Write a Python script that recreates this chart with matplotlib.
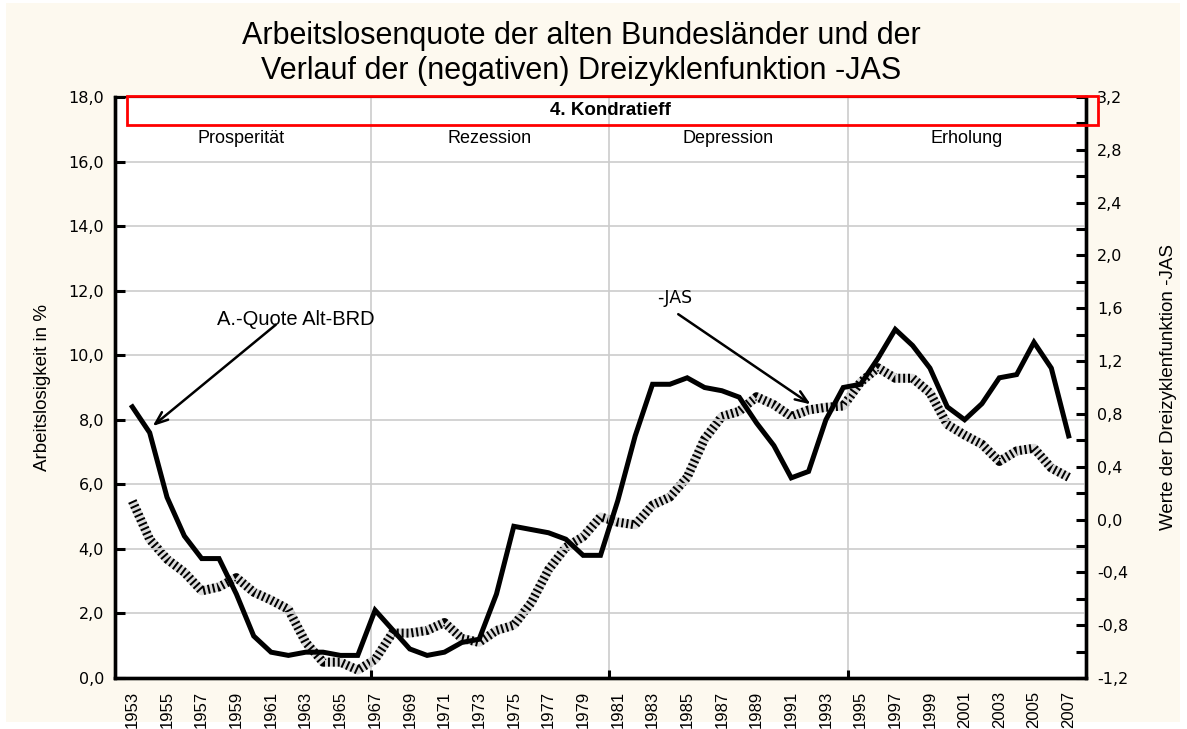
import numpy as np
import matplotlib.pyplot as plt
from matplotlib.patches import Rectangle

# Arbeitslosenquote alte Bundeslaender (%) und -JAS (Dreizyklenfunktion)
years = list(range(1953, 2008))
quote = [8.4, 7.6, 5.6, 4.4, 3.7, 3.7, 2.6, 1.3, 0.8, 0.7,
         0.8, 0.8, 0.7, 0.7, 2.1, 1.5, 0.9, 0.7, 0.8, 1.1,
         1.2, 2.6, 4.7, 4.6, 4.5, 4.3, 3.8, 3.8, 5.5, 7.5,
         9.1, 9.1, 9.3, 9.0, 8.9, 8.7, 7.9, 7.2, 6.2, 6.4,
         8.0, 9.0, 9.1, 9.9, 10.8, 10.3, 9.6, 8.4, 8.0, 8.5,
         9.3, 9.4, 10.4, 9.6, 7.5]
jas = [0.14, -0.15, -0.30, -0.40, -0.54, -0.51, -0.44, -0.55, -0.61, -0.68,
       -0.93, -1.08, -1.08, -1.14, -1.06, -0.86, -0.86, -0.84, -0.78, -0.90,
       -0.93, -0.84, -0.80, -0.63, -0.38, -0.21, -0.13, 0.02, -0.02, -0.04,
       0.11, 0.17, 0.32, 0.61, 0.78, 0.82, 0.93, 0.87, 0.78, 0.83,
       0.85, 0.86, 1.04, 1.15, 1.07, 1.07, 0.96, 0.72, 0.64, 0.57,
       0.44, 0.52, 0.54, 0.39, 0.32]

phases = ['Prosperität', 'Rezession', 'Depression', 'Erholung']
phase_bounds = [1953, 1966.75, 1980.5, 1994.25, 2008]

left_ticks = np.arange(0, 18.1, 2)
right_ticks = np.arange(-1.2, 3.21, 0.4)

fig = plt.figure(figsize=(11.87, 7.29), dpi=100, facecolor='white')
fig.patches.append(Rectangle((6 / 1187, 7 / 729), 1174 / 1187, 719 / 729,
                             transform=fig.transFigure, facecolor='#fdf9ef',
                             edgecolor='none', zorder=-10))

ax = fig.add_axes([115 / 1187, 1 - 678 / 729, 971 / 1187, 581 / 729])
ax2 = ax.twinx()
ax.set_zorder(ax2.get_zorder() + 1)
ax.patch.set_visible(False)
ax2.patch.set_visible(True)
ax2.patch.set_facecolor('white')

# -JAS: schraffierte Linie
ax2.plot(years, jas, color='#dcdcdc', lw=6.5, solid_capstyle='butt', solid_joinstyle='round')
ax2.plot(years, jas, color='black', lw=6.5, dashes=(0.22, 0.32), dash_capstyle='butt')

ax.plot(years, quote, color='black', lw=3.6, solid_joinstyle='miter', zorder=5)

ax.set_xlim(1952, 2008)
ax.set_ylim(0, 18)
ax2.set_ylim(-1.2, 3.2)

ax.set_yticks(left_ticks)
ax.set_yticklabels([f'{v:.1f}'.replace('.', ',') for v in left_ticks])
ax2.set_yticks(right_ticks)
ax2.set_yticklabels([f'{v:.1f}'.replace('.', ',').replace('-0,0', '0,0') for v in right_ticks])
ax2.set_yticks(np.arange(-1.0, 3.2, 0.4), minor=True)

ax.set_xticks(years[::2])
ax.set_xticklabels([str(y) for y in years[::2]], rotation=90,
                   family=['Liberation Sans Narrow', 'Liberation Sans'], fontsize=12)
ax.set_xticks(phase_bounds[:-1], minor=True)
ax.tick_params(axis='x', which='major', length=0, pad=9)
ax.tick_params(axis='x', which='minor', direction='in', length=6, width=2.2)
ax.tick_params(axis='y', direction='in', length=7, width=2.2, labelsize=11.5, pad=8)
ax2.tick_params(axis='y', which='both', direction='in', length=7, width=2.2,
                labelsize=11.5, pad=8)

ax.grid(axis='y', color='#cccccc', lw=1.2)
ax.grid(axis='x', which='minor', color='#cccccc', lw=1.2)

for a in (ax, ax2):
    for s in ('left', 'bottom', 'right'):
        a.spines[s].set_linewidth(2.4)
    a.spines['top'].set_linewidth(1.5)

ax.set_ylabel('Arbeitslosigkeit in %', family='Liberation Sans', fontsize=13.5, labelpad=12)
ax2.set_ylabel('Werte der Dreizyklenfunktion -JAS', family='Liberation Sans',
               fontsize=13.5, labelpad=23)

# Kondratieff-Rahmen und Phasen
ax.add_patch(Rectangle((1952.69, 17.12), 56.0, 0.9, facecolor='none',
                       edgecolor='red', lw=2, clip_on=False, zorder=6))
ax.text(1980.6, 17.57, '4. Kondratieff', ha='center', va='center', fontsize=13.5,
        fontweight='bold', family='Liberation Sans', zorder=7)
for name, a, b in zip(phases, phase_bounds[:-1], phase_bounds[1:]):
    ax.text((a + b) / 2 - (0.6 if name == 'Prosperität' else 0), 16.72, name,
            ha='center', va='center', fontsize=13, family='Liberation Sans')

ax.annotate('', xy=(1954.05, 7.75), xytext=(1961.4, 11.0),
            arrowprops=dict(arrowstyle='->,head_length=0.9,head_width=0.35', lw=1.8, color='black'))
ax.text(1962.4, 11.1, 'A.-Quote Alt-BRD', ha='center', va='center', fontsize=14.5,
        family='Liberation Sans')
ax.annotate('', xy=(1992.25, 8.43), xytext=(1984.35, 11.32),
            arrowprops=dict(arrowstyle='->,head_length=0.9,head_width=0.35', lw=1.8, color='black'))
ax.text(1984.3, 11.78, '-JAS', ha='center', va='center', fontsize=12.5, family='DejaVu Sans')

fig.text(581 / 1187, 1 - 36 / 729, 'Arbeitslosenquote der alten Bundesländer und der',
         ha='center', va='center', fontsize=22, family='Liberation Sans')
fig.text(581 / 1187, 1 - 71 / 729, 'Verlauf der (negativen) Dreizyklenfunktion -JAS',
         ha='center', va='center', fontsize=22, family='Liberation Sans')

fig.savefig('out.png', dpi=100, facecolor=fig.get_facecolor())
